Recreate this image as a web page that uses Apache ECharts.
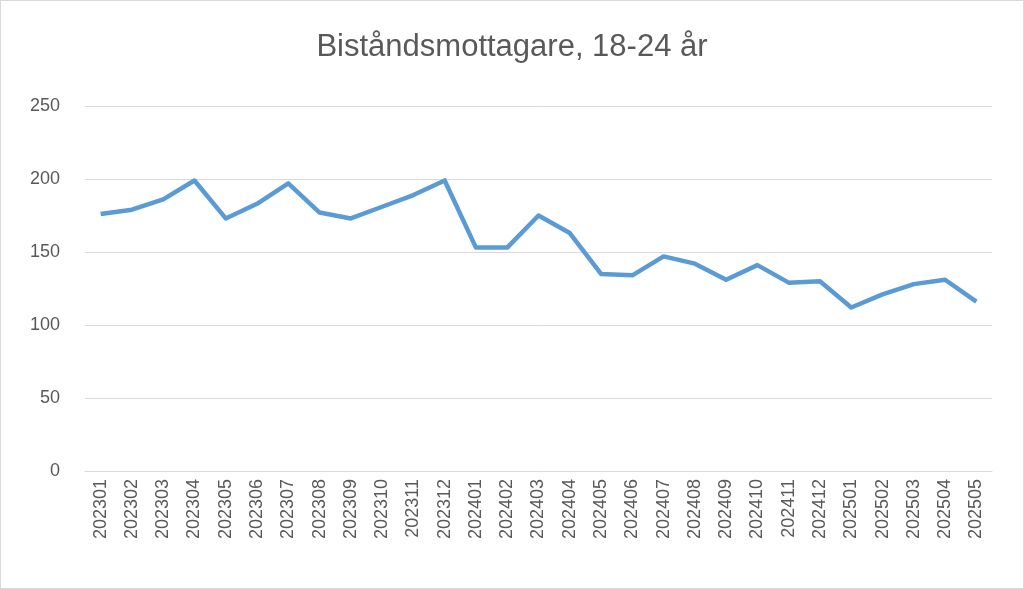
<!DOCTYPE html>
<html><head><meta charset="utf-8">
<script src="https://cdn.jsdelivr.net/npm/echarts@6/dist/echarts.min.js"></script>
<style>html,body{margin:0;padding:0;background:#fff}#c{width:1022px;height:587px;border:1px solid #d9d9d9}</style>
</head><body><div id="c"></div>
<script>
const categories=['202301','202302','202303','202304','202305','202306','202307','202308','202309','202310','202311','202312','202401','202402','202403','202404','202405','202406','202407','202408','202409','202410','202411','202412','202501','202502','202503','202504','202505'];
const values=[176,179,186,199,173,183,197,177,173,181,189,199,153,153,175,163,135,134,147,142,131,141,129,130,112,121,128,131,116];
const yTicks={min:0,max:250,interval:50};
const chart=echarts.init(document.getElementById('c'));
chart.setOption({
  animation:false,
  title:{text:'Biståndsmottagare, 18-24 år',left:'center',top:26,textStyle:{fontFamily:'Liberation Sans',fontSize:31,fontWeight:'normal',color:'#595959'}},
  grid:{left:84,right:31,top:105,bottom:117},
  xAxis:{type:'category',data:categories,boundaryGap:true,
    axisLine:{lineStyle:{color:'#d9d9d9'}},axisTick:{show:false},
    axisLabel:{rotate:90,color:'#595959',fontSize:18,fontFamily:'Liberation Sans',interval:0,margin:8}},
  yAxis:{type:'value',min:yTicks.min,max:yTicks.max,interval:yTicks.interval,
    axisLine:{show:false},axisTick:{show:false},
    splitLine:{lineStyle:{color:'#d9d9d9',width:1}},
    axisLabel:{color:'#595959',fontSize:18,fontFamily:'Liberation Sans',margin:25}},
  series:[{type:'line',data:values,symbol:'none',lineStyle:{color:'#5b9bd5',width:4.5,join:'round'}}]
});
</script></body></html>
